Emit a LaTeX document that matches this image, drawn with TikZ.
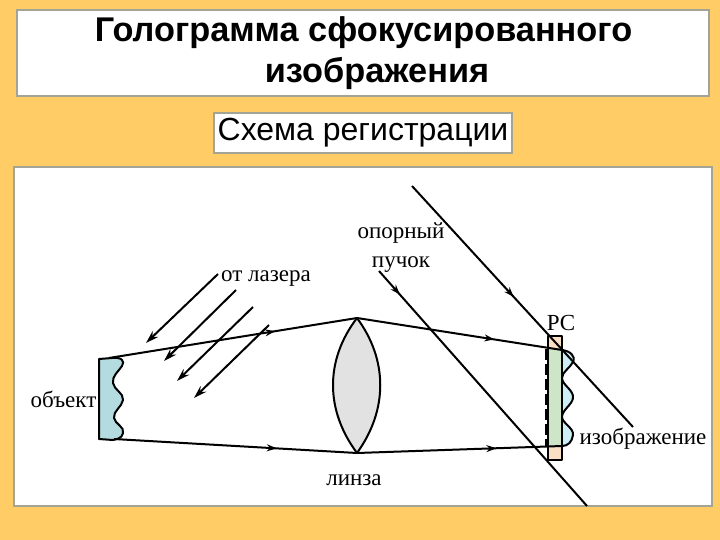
\documentclass[tikz,border=0pt]{standalone}
\usepackage{fontspec}
\setmainfont{Liberation Serif}
\newfontfamily\headfont{Liberation Sans}
\usetikzlibrary{decorations.markings,arrows.meta}
\definecolor{bgor}{HTML}{FFCC66}
\definecolor{frameg}{HTML}{A3A396}
\definecolor{objc}{HTML}{B4DCE0}
\definecolor{lensc}{HTML}{E2E2E2}
\definecolor{platec}{HTML}{FADFC4}
\definecolor{greenc}{HTML}{CFE5C8}
\definecolor{imgc}{HTML}{CDEEF5}
\tikzset{
  x=1pt,y=-1pt,
  frame/.style={draw=frameg,line width=2pt,fill=white,inner sep=0pt},
  ray/.style={draw=black,line width=2pt},
  outl/.style={draw=black,line width=2pt,line join=round},
  lab/.style={inner sep=0pt,font=\fontsize{23}{29}\selectfont,align=center},
  tipmid/.style={postaction={decorate},decoration={markings,mark=at position #1 with {\arrow{Stealth[length=10pt,width=7pt]}}}},
  tipend/.style={-{Stealth[length=13pt,width=8pt]}}
}
\begin{document}
\begin{tikzpicture}
\useasboundingbox (0,0) rectangle (720,540);
\fill[bgor] (0,0) rectangle (720,540);
\node[frame,minimum width=692pt,minimum height=86pt] (title) at (363,53) {};
\node[inner sep=0pt,align=center,font=\headfont\bfseries\fontsize{34.3}{41.5}\selectfont] (titletext) at (363.5,53) {Голограмма сфокусированного\\\hspace*{27pt}изображения};
\node[frame,minimum width=298pt,minimum height=40pt,font=\headfont\fontsize{32}{35}\selectfont] (sub) at (363,133) {\raisebox{-1pt}{Схема регистрации}};
\node[frame,minimum width=698pt,minimum height=339pt] (panel) at (363,336.5) {};
% object
\def\objpath{(99,359) -- (112,358) .. controls (122,357) and (125,361) .. (122,366) .. controls (118,372) and (112,376) .. (113,383) .. controls (114,390) and (124,393) .. (123,400) .. controls (122,407) and (113,411) .. (114,418) .. controls (115,424) and (125,427) .. (123,433) .. controls (122,438) and (118,439) .. (113,440) -- (99,439) -- cycle}
\fill[objc] \objpath;
\draw[outl] \objpath;
% lens
\coordinate (lt) at (357,318);
\coordinate (lb) at (357,453);
\fill[lensc] (lt) .. controls (325,360) and (325,410) .. (lb) .. controls (388,410) and (388,360) .. (lt) -- cycle;
\draw[outl] (lt) .. controls (325,360) and (325,410) .. (lb) .. controls (388,410) and (388,360) .. (lt) -- cycle;
% recording medium
\fill[platec] (548,336) rectangle (562,460);
\fill[greenc] (548,348) rectangle (562,446);
\def\wavepath{(562,350) .. controls (570,351) and (576,356) .. (573,362) .. controls (570,368) and (562,372) .. (562,378) .. controls (562,385) and (574,390) .. (573,398) .. controls (572,405) and (562,410) .. (562,417) .. controls (562,423) and (574,428) .. (573,435) .. controls (572,442) and (568,446) .. (562,446)}
\fill[imgc] \wavepath -- cycle;
\draw[outl] \wavepath;
\draw[outl] (548,336) rectangle (562,460);
\draw[line width=1.6pt,dash pattern=on 11pt off 4pt] (546,349) -- (546,446);
% rays
\coordinate (objT) at (109,358);
\coordinate (objB) at (114,439);
\coordinate (imgT) at (562,350);
\coordinate (imgB) at (562,446);
\draw[ray,tipmid=0.67] (objT) -- (lt);
\draw[ray,tipmid=0.67] (objB) -- (lb);
\draw[ray,tipmid=0.67] (lt) -- (imgT);
\draw[ray,tipmid=0.68] (lb) -- (imgB);
% laser arrows
\coordinate (a1s) at (218,274); \coordinate (a1e) at (146,343);
\coordinate (a2s) at (236,290); \coordinate (a2e) at (164,361);
\coordinate (a3s) at (253,307); \coordinate (a3e) at (177,381);
\coordinate (a4s) at (269,325); \coordinate (a4e) at (194,398);
\draw[ray,tipend] (a1s) -- (a1e);
\draw[ray,tipend] (a2s) -- (a2e);
\draw[ray,tipend] (a3s) -- (a3e);
\draw[ray,tipend] (a4s) -- (a4e);
% reference beam
\coordinate (r1s) at (412,186); \coordinate (r1e) at (633,427);
\coordinate (r2s) at (379,271); \coordinate (r2e) at (587,506);
\draw[ray,tipmid=0.46] (r1s) -- (r1e);
\draw[ray,tipmid=0.1] (r2s) -- (r2e);
% labels
\node[lab] (l1) at (266,279) {от лазера};
\node[lab] (l2) at (401,248) {опорный\\пучок};
\node[lab] (l3) at (561,323) {РС};
\node[lab] (l4) at (63.5,399) {объект};
\node[lab] (l5) at (643,439) {изображение};
\node[lab] (l6) at (354,480) {линза};
\end{tikzpicture}
\end{document}
